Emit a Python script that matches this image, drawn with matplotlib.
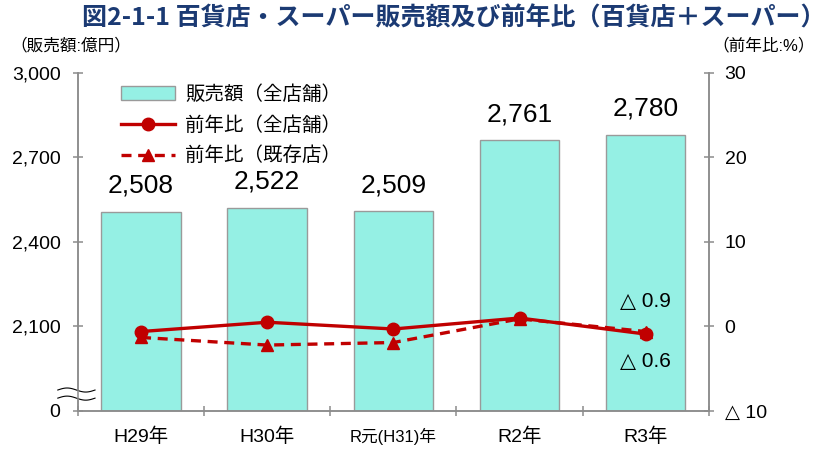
import numpy as np
import matplotlib
matplotlib.use('Agg')
import matplotlib.pyplot as plt
from matplotlib.lines import Line2D
from matplotlib.patches import Patch

plt.rcParams['font.family'] = ['Liberation Sans', 'Noto Sans CJK JP', 'DejaVu Sans']

# data
years = ['H29年', 'H30年', 'R元(H31)年', 'R2年', 'R3年']
sales = [2508, 2522, 2509, 2761, 2780]          # 販売額(全店舗) 億円
yoy_all = [-0.6, 0.5, -0.3, 1.0, -0.9]          # 前年比(全店舗) %
yoy_exist = [-1.3, -2.2, -1.9, 0.9, -0.6]       # 前年比(既存店) %

left_ticks = [1800, 2100, 2400, 2700, 3000]
left_labels = ['0', '2,100', '2,400', '2,700', '3,000']
right_ticks = [-10, 0, 10, 20, 30]
right_labels = ['△ 10', '0', '10', '20', '30']

bar_color = '#95F0E4'
line_color = '#C00000'
axis_gray = '#8C8C8C'
sym_font = ['Liberation Sans', 'DejaVu Sans']

fig = plt.figure(figsize=(8.27, 4.5), dpi=100)
ax = fig.add_axes([0.0943, 0.0867, 0.7627, 0.7513])
ax2 = ax.twinx()

x = np.arange(len(years))
ax.bar(x, np.array(sales) - 1800, bottom=1800, width=0.63,
       color=bar_color, edgecolor='#9A9A9A', linewidth=1.0, zorder=2)
for xi, v in zip(x, sales):
    ax.annotate(f'{v:,}', (xi, v), xytext=(0, 10), textcoords='offset points',
                ha='center', va='bottom', fontsize=19)

ax.set_xlim(-0.5, len(years) - 0.5)
ax.set_ylim(1800, 3000)
ax.set_yticks(left_ticks)
ax.set_yticklabels(left_labels, fontsize=14)
ax.set_xticks(x)
ax.set_xticklabels(years, fontsize=14)
for lab in ax.get_xticklabels():
    if lab.get_text().startswith('R元'):
        lab.set_fontsize(12)
ax.set_xticks(np.arange(len(years) + 1) - 0.5, minor=True)
ax.tick_params(axis='x', which='major', length=0, pad=12)
ax.tick_params(axis='x', which='minor', direction='inout', length=7,
               color=axis_gray, width=1.1)
ax.tick_params(axis='y', direction='inout', length=7, color=axis_gray,
               width=1.1, pad=9)

ax2.plot(x, yoy_all, '-', color=line_color, lw=2.4, marker='o', ms=9, zorder=4)
ax2.plot(x, yoy_exist, '--', color=line_color, lw=2.4, marker='^', ms=8,
         dashes=(3, 2), zorder=3)
ax2.set_ylim(-10, 30)
ax2.set_yticks(right_ticks)
ax2.set_yticklabels(right_labels, fontsize=14, family=sym_font)
ax2.tick_params(axis='y', direction='inout', length=7, color=axis_gray,
                width=1.1, pad=8)

for a in (ax, ax2):
    a.spines['top'].set_visible(False)
    for s in ('left', 'right', 'bottom'):
        a.spines[s].set_color(axis_gray)
        a.spines[s].set_linewidth(1.1)

ax2.text(4, 2.9, '△ 0.9', ha='center', va='center', fontsize=15, family=sym_font)
ax2.text(4, -4.2, '△ 0.6', ha='center', va='center', fontsize=15, family=sym_font)

# broken axis mark
bx = np.linspace(-0.032, 0.027, 30)
wave = 0.006 * np.sin((bx + 0.032) / 0.059 * 2 * np.pi)
y_lo = 0.038 + wave
y_hi = 0.062 + wave
ax.fill_between(bx, y_lo, y_hi, color='white', transform=ax.transAxes,
                clip_on=False, zorder=5)
ax.plot(bx, y_lo, color='black', lw=0.8, transform=ax.transAxes, clip_on=False, zorder=6)
ax.plot(bx, y_hi, color='black', lw=0.8, transform=ax.transAxes, clip_on=False, zorder=6)

handles = [
    Patch(facecolor=bar_color, edgecolor='#9A9A9A'),
    Line2D([], [], color=line_color, lw=2.4, marker='o', ms=9),
    Line2D([], [], color=line_color, lw=2.4, ls='--', dashes=(3, 2), marker='^', ms=8),
]
labels = ['販売額（全店舗）', '前年比（全店舗）', '前年比（既存店）']
ax2.legend(handles, labels, loc='upper left', bbox_to_anchor=(0.04, 1.015),
           frameon=False, fontsize=14, handlelength=2.8, labelspacing=0.62,
           handletextpad=0.5)

fig.text(0.998, 0.96, '図2-1-1 百貨店・スーパー販売額及び前年比（百貨店＋スーパー）',
         fontsize=18, fontweight='bold', color='#1B3A73', va='center', ha='right',
         family=['Noto Sans CJK JP', 'DejaVu Sans'])
fig.text(0.012, 0.9, '（販売額:億円）', fontsize=12, va='center', ha='left')
fig.text(0.985, 0.9, '（前年比:%）', fontsize=12, va='center', ha='right')

fig.savefig('out.png', dpi=100)
